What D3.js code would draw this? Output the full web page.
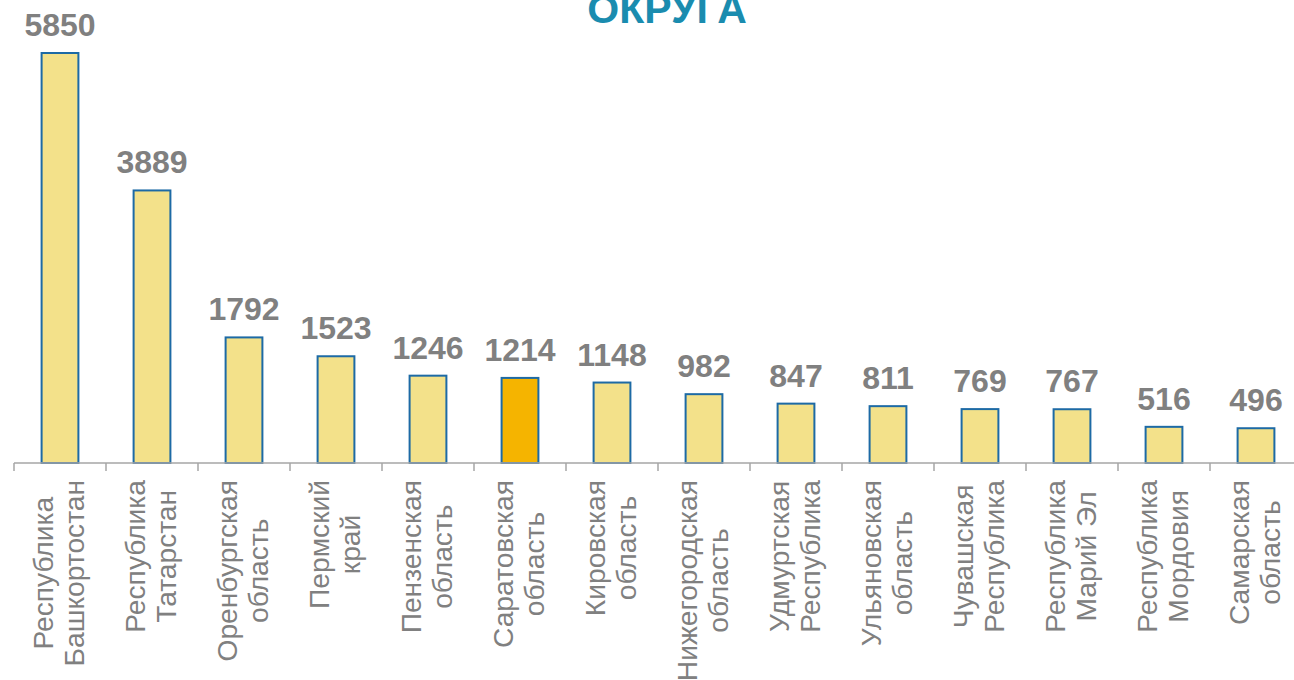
<!DOCTYPE html>
<html>
<head>
<meta charset="utf-8">
<script src="https://cdn.jsdelivr.net/npm/d3@7"></script>
<style>
  html, body { margin: 0; padding: 0; background: #fff; }
  svg { display: block; font-family: Arial, "Liberation Sans", sans-serif; }
</style>
</head>
<body>
<div id="chart"></div>
<script>
// données du graphique
const regions = [
  ["Республика", "Башкортостан"],
  ["Республика", "Татарстан"],
  ["Оренбургская", "область"],
  ["Пермский", "край"],
  ["Пензенская", "область"],
  ["Саратовская", "область"],
  ["Кировская", "область"],
  ["Нижегородская", "область"],
  ["Удмуртская", "Республика"],
  ["Ульяновская", "область"],
  ["Чувашская", "Республика"],
  ["Республика", "Марий Эл"],
  ["Республика", "Мордовия"],
  ["Самарская", "область"]
]
const valeurs = [5850, 3889, 1792, 1523, 1246, 1214, 1148, 982, 847, 811, 769, 767, 516, 496]
const surligne = "Саратовская область"
const titre = "ОКРУГА"

const width = 1294, height = 680
const noms = regions.map(d => d.join(" "))
const data = noms.map((n, i) => ({nom: n, lignes: regions[i], valeur: valeurs[i]}))

const x = d3.scaleBand().domain(noms).range([14, 1302]).paddingInner(0.6).paddingOuter(0.3)
const y = d3.scaleLinear().domain([0, 5850]).range([463, 53])

const svg = d3.select("#chart").append("svg")
    .attr("width", width).attr("height", height)

// titre (coupé en haut comme sur l'original)
svg.append("text")
    .attr("x", 667).attr("y", 23)
    .attr("text-anchor", "middle")
    .attr("font-size", 41).attr("font-weight", "bold")
    .attr("fill", "#1a8caf")
    .text(titre)

// barres
svg.append("g").selectAll("rect")
    .data(data)
    .enter().append("rect")
    .attr("x", d => x(d.nom))
    .attr("y", d => y(d.valeur))
    .attr("width", x.bandwidth())
    .attr("height", d => y(0) - y(d.valeur))
    .attr("fill", d => d.nom == surligne ? "#f5b400" : "#f3e18a")
    .attr("stroke", "#1d6aa5")
    .attr("stroke-width", 2)

// axe : ligne + graduations entre les catégories
const demiPas = (x.step() - x.bandwidth()) / 2
const axe = svg.append("g").attr("stroke", "#a6a6a6").attr("stroke-width", 1.5)
axe.append("line")
    .attr("x1", x.range()[0]).attr("x2", x.range()[1])
    .attr("y1", y(0)).attr("y2", y(0))
axe.selectAll("line.tick")
    .data(noms)
    .enter().append("line").attr("class", "tick")
    .attr("x1", d => x(d) - demiPas).attr("x2", d => x(d) - demiPas)
    .attr("y1", y(0)).attr("y2", y(0) + 8)

// étiquettes des valeurs
svg.append("g").selectAll("text")
    .data(data)
    .enter().append("text")
    .attr("x", d => x(d.nom) + x.bandwidth() / 2)
    .attr("y", d => y(d.valeur) - 17)
    .attr("text-anchor", "middle")
    .attr("font-size", 32).attr("font-weight", "bold")
    .attr("fill", "#808080")
    .text(d => d.valeur)

// noms des régions, tournés de 90°
const cat = svg.append("g").selectAll("g")
    .data(data)
    .enter().append("g")
    .attr("transform", d => "translate(" + (x(d.nom) + x.bandwidth() / 2) + ",480) rotate(-90)")

cat.each(function(d) {
    const g = d3.select(this)
    const n = d.lignes.length
    const textes = d.lignes.map((l, i) => g.append("text")
        .attr("y", (i - (n - 1) / 2) * 31 + 8)
        .attr("text-anchor", "middle")
        .attr("font-size", 28.2)
        .attr("fill", "#808080")
        .text(l))
    // bloc aligné en haut, lignes centrées entre elles
    const maxLong = d3.max(textes, t => t.node().getComputedTextLength())
    textes.forEach(t => t.attr("x", -maxLong / 2))
})
</script>
</body>
</html>
